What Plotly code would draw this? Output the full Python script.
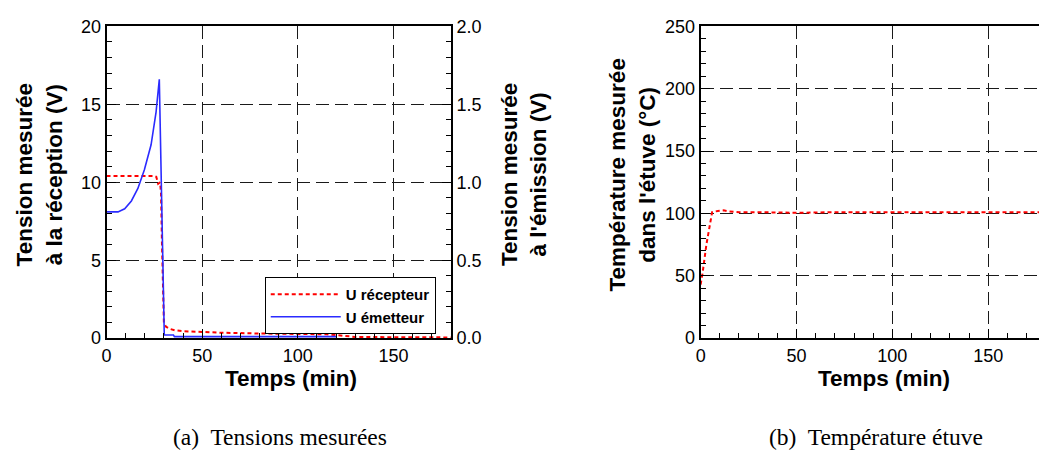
import plotly.graph_objects as go

# ---- data ----
t_rec = [0, 5, 10, 15, 20, 25, 26, 27, 28, 28.5, 29, 29.5, 30, 31, 33, 36, 40, 50, 60, 80, 100, 115, 120, 125, 130, 140, 150, 160, 170, 180]
u_rec = [10.4, 10.4, 10.4, 10.4, 10.4, 10.4, 10.35, 9.9, 10.0, 9.3, 6.0, 2.5, 1.0, 0.75, 0.6, 0.5, 0.45, 0.4, 0.35, 0.3, 0.28, 0.25, 0.2, 0.12, 0.08, 0.07, 0.06, 0.06, 0.05, 0.05]

t_em = [0, 6, 9.5, 13, 16.4, 19.8, 23.3, 25.9, 27.6, 30.2, 35, 35.5, 120]
u_em = [0.81, 0.81, 0.83, 0.88, 0.96, 1.08, 1.24, 1.45, 1.66, 0.02, 0.02, 0.01, 0.01]

t_temp = [0, 1, 3, 6, 9, 12, 15, 20, 30, 50, 70, 100, 130, 150, 176.5]
temp = [43, 52, 75, 101, 102, 102.5, 101.5, 101, 101, 100.5, 101, 100.8, 101, 101, 101]

x_ticks = [0, 50, 100, 150]
y1_ticks = [0, 5, 10, 15, 20]
y2_ticks = [0, 0.5, 1.0, 1.5, 2.0]
y2_labels = ["0.0", "0.5", "1.0", "1.5", "2.0"]
y3_ticks = [0, 50, 100, 150, 200, 250]

W, H = 1039, 463
def px(x): return x / W
def py(y): return 1 - y / H

SANS = "Liberation Sans, Arial, sans-serif"
SERIF = "Liberation Serif, DejaVu Serif, serif"

fig = go.Figure()
fig.add_trace(go.Scatter(x=t_rec, y=u_rec, name="U récepteur", mode="lines",
                         line=dict(color="#ff0000", width=2, dash="4px,3px"),
                         xaxis="x", yaxis="y"))
fig.add_trace(go.Scatter(x=t_em, y=u_em, name="U émetteur", mode="lines",
                         line=dict(color="#2b2bff", width=1.6),
                         xaxis="x", yaxis="y2"))
fig.add_trace(go.Scatter(x=t_temp, y=temp, name="Température", mode="lines",
                         line=dict(color="#ff0000", width=2, dash="4px,3px"),
                         xaxis="x2", yaxis="y3", showlegend=False))

grid = dict(showgrid=True, gridcolor="#1a1a1a", gridwidth=1, griddash="13px,6px")
axline = dict(showline=True, linecolor="black", linewidth=2, zeroline=False,
              ticks="inside", ticklen=9, tickwidth=1.2, tickcolor="black",
              tickfont=dict(family=SANS, size=18, color="black"))

dom_y = [py(343), py(17)]
fig.update_layout(
    autosize=True,
    margin=dict(l=0, r=0, t=0, b=0),
    paper_bgcolor="white", plot_bgcolor="white",
    xaxis=dict(domain=[px(102), px(448)], range=[0, 180], tickvals=x_ticks,
               mirror=True, minor=dict(ticks="inside", dtick=10, ticklen=5, tickcolor="black", showgrid=False),
               anchor="y", **grid, **axline),
    yaxis=dict(domain=dom_y, range=[0, 20], tickvals=y1_ticks,
               minor=dict(ticks="inside", dtick=1, ticklen=5, tickcolor="black", showgrid=False),
               anchor="x", **grid, **axline),
    yaxis2=dict(overlaying="y", side="right", range=[0, 2], tickvals=y2_ticks, ticktext=y2_labels,
                minor=dict(ticks="inside", dtick=0.1, ticklen=5, tickcolor="black", showgrid=False),
                anchor="x", showgrid=False, **axline),
    xaxis2=dict(domain=[px(699), 1.0], range=[0, 176.5], tickvals=x_ticks,
                mirror=True, minor=dict(ticks="inside", dtick=10, ticklen=5, tickcolor="black", showgrid=False),
                anchor="y3", **grid, **axline),
    yaxis3=dict(domain=dom_y, range=[0, 250], tickvals=y3_ticks,
                minor=dict(ticks="inside", dtick=10, ticklen=5, tickcolor="black", showgrid=False),
                anchor="x2", **grid, **axline),
    legend=dict(x=px(261), y=py(279), xanchor="left", yanchor="top",
                bgcolor="white", bordercolor="black", borderwidth=1,
                font=dict(family=SANS, size=15, color="black", weight="bold"),
                itemwidth=70, tracegroupgap=0),
    showlegend=True,
)

title_font = dict(family=SANS, size=22.5, color="black", weight="bold")
ann = [
    dict(text="Temps (min)", x=px(287), y=py(385), font=title_font),
    dict(text="Temps (min)", x=px(883), y=py(385), font=title_font),
    dict(text="Tension mesurée<br>à la réception (V)", x=px(34), y=py(172), textangle=-90, font=title_font),
    dict(text="Tension mesurée<br>à l'émission (V)", x=px(521), y=py(172), textangle=-90, font=title_font),
    dict(text="Température mesurée<br>dans l'étuve (°C)", x=px(630), y=py(172), textangle=-90, font=title_font),
    dict(text="(a)  Tensions mesurées", x=px(276), y=py(446), font=dict(family=SERIF, size=23.5, color="black")),
    dict(text="(b)  Température étuve", x=px(875), y=py(446), font=dict(family=SERIF, size=23.5, color="black")),
]
for a in ann:
    fig.add_annotation(xref="paper", yref="paper", showarrow=False,
                       xanchor="center", yanchor="middle", **a)

post = ("document.documentElement.style.margin='0';document.body.style.margin='0';"
        "document.documentElement.style.overflow='hidden';document.body.style.overflow='hidden';"
        "var gd=document.getElementById('{plot_id}');gd.style.width='100vw';gd.style.height='100vh';"
        "Plotly.Plots.resize(gd);")
fig.write_html("out.html", default_width="100vw", default_height="100vh",
               config={"displayModeBar": False, "responsive": True},
               post_script=post)
